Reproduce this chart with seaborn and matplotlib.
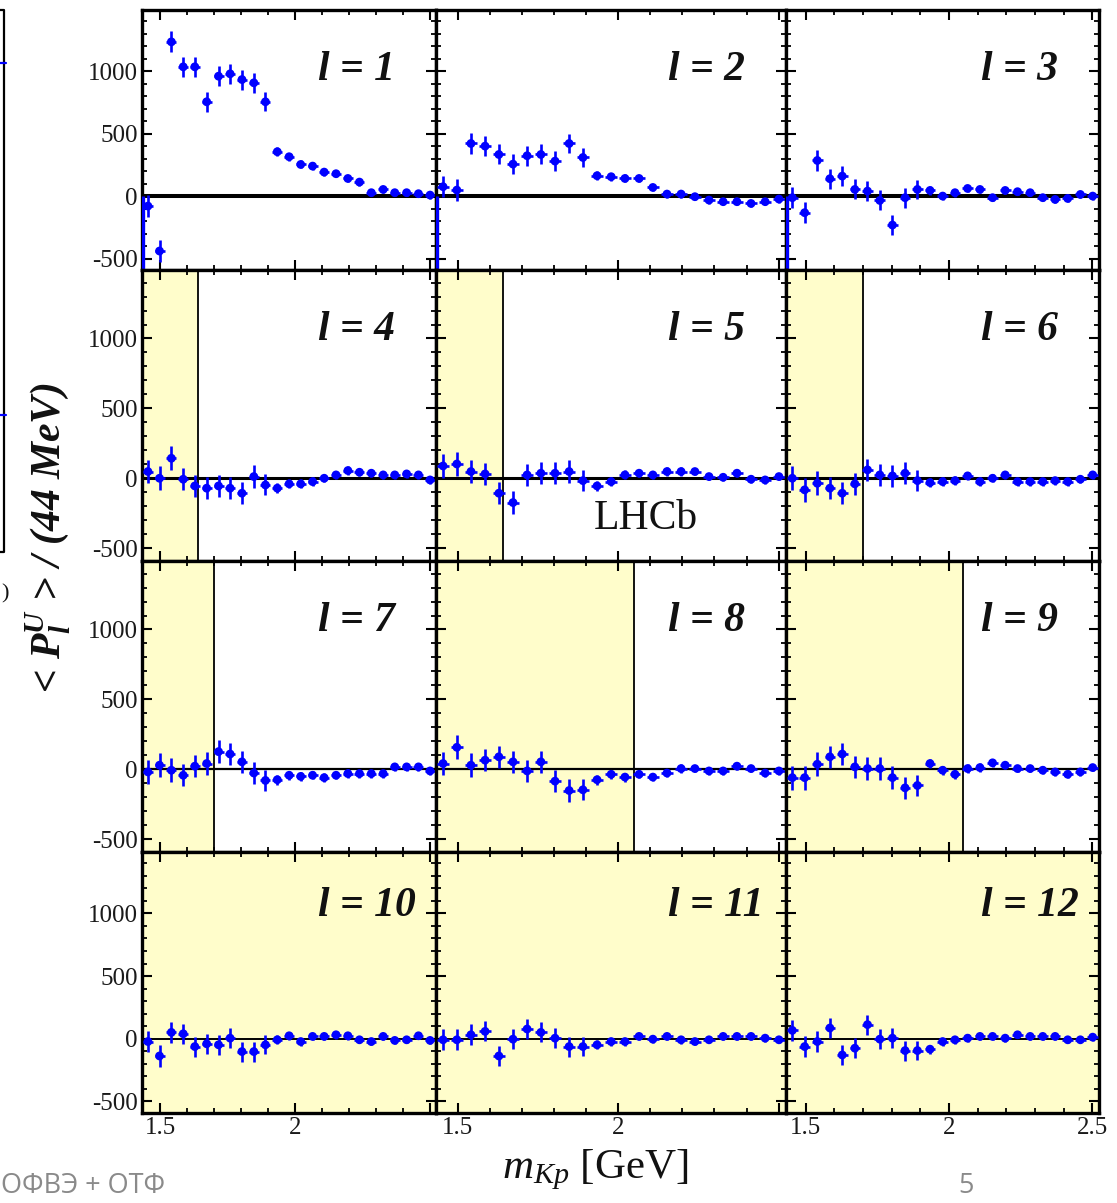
import numpy as np
import pandas as pd
import matplotlib
matplotlib.use("Agg")
import matplotlib.pyplot as plt
from matplotlib.ticker import MultipleLocator, FixedLocator
from matplotlib.lines import Line2D
import seaborn as sns

# ---------------------------------------------------------------------------
# Legendre moments <P_l^U> of cos(theta) vs m(Kp), 44 MeV bins
# ---------------------------------------------------------------------------
mass_kp = [1.454, 1.497, 1.541, 1.585, 1.628, 1.672, 1.716, 1.759, 1.803,
           1.847, 1.890, 1.934, 1.978, 2.021, 2.065, 2.108, 2.152, 2.196,
           2.239, 2.283, 2.327, 2.370, 2.414, 2.458, 2.501]

stat_err = [85, 85, 85, 80, 80, 80, 80, 80, 80, 80, 75, 35, 32, 32, 30,
            30, 30, 30, 28, 28, 28, 28, 28, 28, 28]

moment_l1 = [-80, -440, 1235, 1035, 1035, 755, 960, 979, 933, 907, 755, 355,
             315, 253, 240, 192, 179, 141, 112, 27, 53, 27, 27, 19, 8]
moment_l2 = [75, 48, 421, 400, 333, 256, 323, 333, 280, 421, 309, 163, 155,
             141, 141, 69, 16, 16, -5, -32, -45, -45, -59, -45, -24]
moment_l3 = [-13, -133, 285, 139, 160, 53, 40, -35, -232, -13, 53, 45, 0,
             27, 61, 53, -13, 45, 35, 27, -13, -27, -19, 13, 0]
moment_l4 = [48, 0, 143, -7, -55, -71, -55, -71, -107, 12, -48, -71, -40,
             -40, -24, 0, 24, 55, 43, 36, 24, 24, 31, 24, -12]
moment_l5 = [88, 102, 48, 31, -107, -174, 24, 36, 36, 48, -17, -55, -24,
             24, 36, 24, 48, 48, 48, 12, 7, 36, -7, -12, 12]
moment_l6 = [0, -83, -36, -71, -107, -40, 60, 24, 17, 36, -17, -31, -24,
             -17, 17, -24, 0, 24, -24, -24, -24, -17, -24, -7, 24]
moment_l7 = [-19, 29, -7, -43, 22, 41, 126, 109, 53, -27, -80, -75, -43,
             -51, -43, -60, -43, -31, -31, -31, -31, 17, 17, 17, -12]
moment_l8 = [41, 157, 29, 65, 89, 53, -12, 53, -85, -152, -147, -75, -36,
             -56, -36, -56, -27, 5, 5, -12, -12, 22, 5, -27, -12]
moment_l9 = [-60, -60, 36, 89, 109, 17, 5, 5, -60, -133, -116, 41, -7, -36,
             5, 12, 46, 29, 5, 5, -7, -19, -36, -19, 12]
moment_l10 = [-22, -137, 51, 40, -62, -40, -48, 5, -102, -102, -48, -8, 24,
              -22, 19, 19, 32, 24, -8, -22, 19, -13, -8, 24, -13]
moment_l11 = [-8, -8, 32, 59, -137, -3, 78, 51, 5, -62, -62, -48, -22, -22,
              19, -3, 19, -8, -22, -8, 19, 19, 19, 5, -8]
moment_l12 = [67, -62, -22, 86, -129, -75, 113, -3, 5, -94, -94, -83, -22,
              -8, 5, 19, 19, 5, 32, 19, 19, 19, -8, -8, 13]

moments = [moment_l1, moment_l2, moment_l3, moment_l4, moment_l5, moment_l6,
           moment_l7, moment_l8, moment_l9, moment_l10, moment_l11, moment_l12]

# upper m(Kp) of the region where a moment is expected to vanish (None = no band)
zero_region_end = [None, None, None, 1.64, 1.64, 1.70, 1.70, 2.05, 2.05,
                   2.523, 2.523, 2.523]

# underflow spike drawn at the threshold edge of the l = 1..3 panels
underflow_mass = 1.436
underflow_low = [-600, -600, -600]

mass_range = (1.432, 2.523)
moment_range = (-592, 1490)
x_ticklabels = ["1.5", "2", "2.5"]
y_ticklabels = ["-500", "0", "500", "1000"]

frames = []
for l, vals in enumerate(moments, start=1):
    frames.append(pd.DataFrame({"l": l, "mass": mass_kp, "moment": vals,
                                "err": stat_err}))
df = pd.concat(frames, ignore_index=True)

# ---------------------------------------------------------------------------
sns.set_theme(style="ticks")
plt.rcParams.update({
    "font.family": ["Liberation Serif", "DejaVu Serif"],
    "mathtext.fontset": "custom",
    "mathtext.rm": "Liberation Serif",
    "mathtext.it": "Liberation Serif:italic",
    "mathtext.bf": "Liberation Serif:bold:italic",
    "axes.unicode_minus": False,
})

W, H = 1117, 1203
fig = plt.figure(figsize=(W / 100, H / 100), dpi=100)
fig.patch.set_facecolor("white")

left, right, top, bottom = 142, 1099, 10, 1113
gs = fig.add_gridspec(4, 3, left=left / W, right=right / W,
                      top=1 - top / H, bottom=1 - bottom / H,
                      width_ratios=[294, 350, 313],
                      height_ratios=[260, 291, 291, 261],
                      wspace=0, hspace=0)

yellow = "#FFFDCB"
blue = "#0000FF"
zero_lw = [2.9, 2.2, 1.6, 1.4]
half_bin = 0.0218

for i in range(12):
    r, c = divmod(i, 3)
    l = i + 1
    ax = fig.add_subplot(gs[r, c])
    ax.set_facecolor("white")
    sub = df[df["l"] == l]

    lim = zero_region_end[i]
    if lim is not None:
        ax.axvspan(mass_range[0], lim, color=yellow, lw=0, zorder=0)
        if lim < mass_range[1]:
            ax.axvline(lim, color="black", lw=1.3, zorder=1)

    ax.axhline(0, color="black", lw=zero_lw[r], zorder=2)

    if i < 3:
        ax.vlines(underflow_mass, underflow_low[i], 0, color=blue, lw=2.4,
                  zorder=3)

    ax.errorbar(sub["mass"], sub["moment"], yerr=sub["err"],
                xerr=half_bin * 0.85, fmt="none", ecolor=blue,
                elinewidth=1.9, capsize=0, zorder=3)
    sns.scatterplot(data=sub, x="mass", y="moment", ax=ax, color=blue,
                    s=40, edgecolor="none", legend=False, zorder=4)

    ax.set_xlim(*mass_range)
    ax.set_ylim(*moment_range)
    ax.set_xlabel("")
    ax.set_ylabel("")

    ax.xaxis.set_major_locator(FixedLocator([1.5, 2.0, 2.5]))
    ax.xaxis.set_minor_locator(MultipleLocator(0.1))
    ax.yaxis.set_major_locator(FixedLocator([-500, 0, 500, 1000]))
    ax.yaxis.set_minor_locator(MultipleLocator(100))
    ax.tick_params(which="both", direction="in", top=True, right=True,
                   color="black", labelcolor="#1a1a1a", labelsize=18)
    ax.tick_params(which="major", length=7, width=1.5, pad=3)
    ax.tick_params(which="minor", length=3.5, width=1.3)

    if r == 3:
        labels = x_ticklabels if c == 2 else x_ticklabels[:2] + [""]
        ax.set_xticklabels(labels)
    else:
        ax.set_xticklabels([])
    if c == 0:
        ax.set_yticklabels(y_ticklabels)
    else:
        ax.set_yticklabels([])

    for s in ax.spines.values():
        s.set_linewidth(2.4)
        s.set_color("black")

    ax.annotate(f"l = {l}", xy=(1, 1), xycoords="axes fraction",
                xytext=(-118, -60 if r < 3 else -54),
                textcoords="offset pixels", ha="left", va="center",
                fontsize=30, style="italic", weight="bold",
                color="#111111", zorder=6)

    if l == 5:
        ax.text(0.6, 0.145, "LHCb", transform=ax.transAxes, ha="center",
                va="center", fontsize=30, color="#111111", zorder=6)

# axis titles
fig.text(48 / W, 1 - 538 / H,
         r"< $\mathbf{P}_{\mathbf{l}}^{\mathbf{U}}$ > / (44 MeV)",
         rotation=90, ha="center", va="center", fontsize=30,
         style="italic", weight="bold", color="#111111")
fig.text(595 / W, 1 - 1170 / H, r"$m_{Kp}$ [GeV]", ha="center",
         va="center", fontsize=31, color="#111111")

# slide footer
fig.text(1 / W, 1 - 1186 / H, "ОФВЭ + ОТФ", ha="left", va="center",
         fontsize=19.5, family="Open Sans", color="#8a8a8a")
fig.text(966 / W, 1 - 1186 / H, "5", ha="center", va="center",
         fontsize=19.5, family="Open Sans", color="#8a8a8a")


def px_line(xs, ys, color, lw):
    fig.add_artist(Line2D([x / W for x in xs], [1 - y / H for y in ys],
                          transform=fig.transFigure, color=color, lw=lw))


# edge of the neighbouring slide element
px_line([0, 4, 4, 0], [10, 10, 552, 552], "black", 1.6)
px_line([0, 6], [63, 63], blue, 1.6)
px_line([0, 6], [415, 415], blue, 1.6)
fig.text(1 / W, 1 - 594 / H, ")", ha="left", va="center", fontsize=16,
         color="#111111")

fig.savefig("out.png", dpi=100)
